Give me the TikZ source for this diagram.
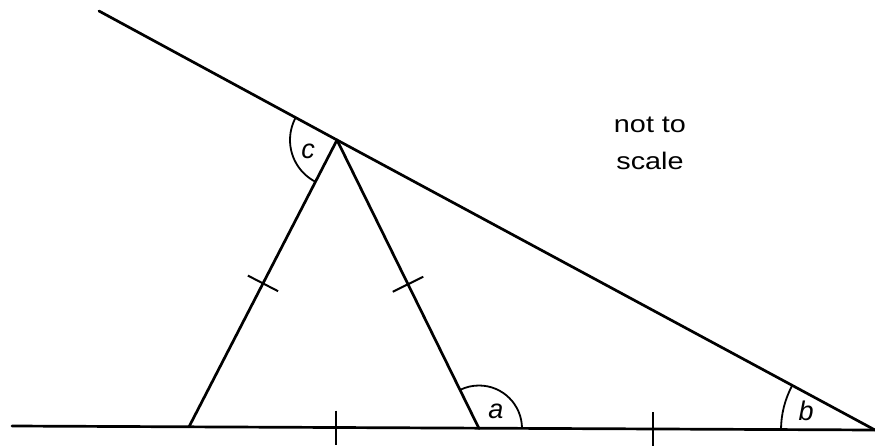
\documentclass[tikz,border=0pt]{standalone}
\usepackage{fontspec}
\setmainfont{Liberation Sans}
\newfontfamily\notefont[FakeStretch=1.2]{Liberation Sans}
\usetikzlibrary{calc}
\begin{document}
\begin{tikzpicture}[x=1pt,y=-1pt,
 mainline/.style={line width=2.7pt, line cap=round, line join=round},
 tickmark/.style={line width=2pt},
 anglearc/.style={line width=1.8pt},
 anglelabel/.style={font=\fontsize{27}{27}\selectfont\itshape, inner sep=0pt},
 notetext/.style={font=\notefont\fontsize{24}{37}\selectfont, align=center, inner sep=0pt}]
\useasboundingbox (0,0) rectangle (875,447);
\coordinate (TL) at (99,11);
\coordinate (C) at (337,140);
\coordinate (B) at (875,430);
\coordinate (BL) at (12,426);
\coordinate (P) at (189,426.8);
\coordinate (A) at (479,428.5);
\coordinate (T1) at (336,427.5);
\coordinate (T2) at (653,429);
% main lines
\draw[mainline] (TL) -- (C) -- (B);
\draw[mainline] (BL) -- (B);
\draw[mainline] (P) -- (C) -- (A);
% ticks on sides
\coordinate (M1) at ($(P)!0.5!(C)$);
\coordinate (M2) at ($(C)!0.5!(A)$);
\draw[tickmark] ($(M1)!17pt!90:(C)$) -- ($(M1)!17pt!-90:(C)$);
\draw[tickmark] ($(M2)!17pt!90:(A)$) -- ($(M2)!17pt!-90:(A)$);
% ticks on base
\draw[tickmark] ($(T1)+(0,-17)$) -- ($(T1)+(0,17)$);
\draw[tickmark] ($(T2)+(0,-17)$) -- ($(T2)+(0,17)$);
% angle arcs
\draw[anglearc] (A) ++(0:43) arc[start angle=0, end angle=-116.2, radius=43];
\draw[anglearc] (B) ++(-151.7:94) arc[start angle=-151.7, end angle=-180, radius=94];
\draw[anglearc] (C) ++(117.3:47) arc[start angle=117.3, end angle=208.5, radius=47];
% labels
\node[anglelabel] (la) at (496,411) {a};
\node[anglelabel] (lb) at (806,411) {b};
\node[anglelabel] (lc) at (308,151) {c};
\node[notetext] (note) at (650,143) {not to\\scale};
\end{tikzpicture}
\end{document}
